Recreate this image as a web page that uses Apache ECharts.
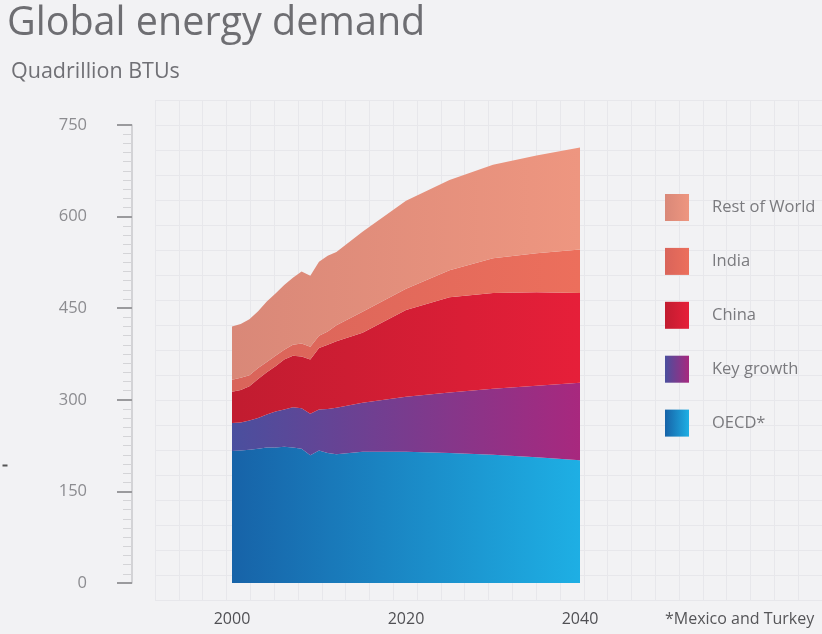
<!DOCTYPE html>
<html>
<head>
<meta charset="utf-8">
<script src="https://cdn.jsdelivr.net/npm/echarts@6/dist/echarts.min.js"></script>
<style>
  html, body { margin: 0; padding: 0; background: #f2f2f4; }
  #chart { width: 822px; height: 634px; }
</style>
</head>
<body>
<div id="chart"></div>
<script>
// Global energy demand, quadrillion BTUs, stacked by region
const years = [2000, 2001, 2002, 2003, 2004, 2005, 2006, 2007, 2008, 2009, 2010, 2011, 2012,
               2015, 2020, 2025, 2030, 2035, 2040];
const oecd        = [216, 217, 218, 220, 222, 222, 223, 222, 220, 209, 217, 213, 211, 215, 215, 213, 210, 206, 201];
const keyGrowth   = [46, 46, 48, 50, 54, 59, 61, 66, 66, 68, 67, 72, 76, 80, 90, 99, 108, 117, 127];
const china       = [51, 53, 56, 64, 69, 74, 82, 84, 85, 89, 101, 105, 109, 115, 142, 156, 157, 153, 147];
const india       = [20, 20, 18, 18, 17, 17, 16, 18, 21, 21, 20, 22, 26, 34, 35, 44, 57, 64, 71];
const restOfWorld = [87, 88, 92, 93, 99, 102, 106, 110, 118, 116, 121, 124, 120, 131, 144, 148, 153, 160, 167];

const yTicks = [0, 150, 300, 450, 600, 750];
const xTicks = [2000, 2020, 2040];
const seriesNames = ['OECD*', 'Key growth', 'China', 'India', 'Rest of World'];
const footnote = '*Mexico and Turkey';

const FONT = '"Open Sans", "Noto Sans", sans-serif';

function grad(a, b) {
  return new echarts.graphic.LinearGradient(0, 0, 1, 0, [
    { offset: 0, color: a }, { offset: 1, color: b }
  ]);
}
const palette = {
  'OECD*':         ['#1763a8', '#1eafe4'],
  'Key growth':    ['#4a4f9e', '#a8287e'],
  'China':         ['#c11c30', '#e61f39'],
  'India':         ['#d9645a', '#ec6f5c'],
  'Rest of World': ['#d98878', '#ee9680']
};
const values = {
  'OECD*': oecd, 'Key growth': keyGrowth, 'China': china,
  'India': india, 'Rest of World': restOfWorld
};

const chart = echarts.init(document.getElementById('chart'), null, { renderer: 'canvas' });

// Each point is stored as [value, year] so the stack accumulates the value column;
// encode maps the year to x and the value to y.
const areaSeries = seriesNames.map(name => ({
  name,
  type: 'line',
  stack: 'total',
  xAxisIndex: 0,
  yAxisIndex: 0,
  encode: { x: 1, y: 0 },
  showSymbol: false,
  symbol: 'none',
  silent: true,
  z: 3,
  lineStyle: { width: 0 },
  itemStyle: { color: grad(palette[name][0], palette[name][1]) },
  areaStyle: { opacity: 1, color: grad(palette[name][0], palette[name][1]) },
  data: years.map((yr, i) => [values[name][i], yr])
}));

const option = {
  backgroundColor: '#f2f2f4',
  animation: false,
  title: [
    { text: 'Global energy demand', left: 7, top: 4, padding: 0,
      textStyle: { fontFamily: FONT, fontSize: 39.5, fontWeight: 'normal', color: '#6e6e72' } },
    { text: 'Quadrillion BTUs', left: 11, top: 61, padding: 0,
      textStyle: { fontFamily: FONT, fontSize: 21.5, fontWeight: 'normal', color: '#707075' } },
    { text: footnote, left: 665, top: 611, padding: 0,
      textStyle: { fontFamily: FONT, fontSize: 16, fontWeight: 'normal', color: '#555558' } }
  ],
  legend: {
    orient: 'vertical',
    left: 665,
    top: 194,
    padding: 0,
    itemWidth: 24,
    itemHeight: 27,
    itemGap: 26.9,
    icon: 'rect',
    selectedMode: false,
    textStyle: { fontFamily: FONT, fontSize: 16.5, color: '#7a7a7e', padding: [0, 0, 0, 18] },
    data: seriesNames.slice().reverse().map(name => ({
      name,
      icon: 'rect',
      itemStyle: { color: grad(palette[name][0], palette[name][1]) }
    }))
  },
  grid: [
    { left: 232, right: 242, top: 125, bottom: 51 },
    // faint background lattice
    { left: 155, right: 0, top: 100, bottom: 34, z: 0 }
  ],
  xAxis: [
    {
      type: 'value', gridIndex: 0, min: xTicks[0], max: xTicks[xTicks.length - 1], interval: 20,
      axisLine: { show: false }, axisTick: { show: false }, splitLine: { show: false },
      axisLabel: { margin: 28, fontFamily: FONT, fontSize: 16, color: '#505054',
                   formatter: v => String(v) }
    },
    {
      type: 'value', gridIndex: 1, min: 0, max: 28, interval: 1, silent: true,
      axisLine: { show: false }, axisTick: { show: false }, axisLabel: { show: false },
      splitLine: { show: true, lineStyle: { color: '#e7e7eb', width: 1 } }
    }
  ],
  yAxis: [
    {
      type: 'value', gridIndex: 0, min: 0, max: yTicks[yTicks.length - 1], interval: 150,
      offset: 100,
      axisLine: { show: true, lineStyle: { color: '#c9c9cc', width: 1.5 } },
      axisTick: { show: true, length: 15, lineStyle: { color: '#9a9a9d', width: 2 } },
      minorTick: { show: true, splitNumber: 10, length: 9, lineStyle: { color: '#d4d4d7', width: 1 } },
      splitLine: { show: false },
      axisLabel: { margin: 45, fontFamily: FONT, fontSize: 16.5, color: '#8c8c90' }
    },
    {
      type: 'value', gridIndex: 1, min: 0, max: 20, interval: 1, silent: true,
      axisLine: { show: false }, axisTick: { show: false }, axisLabel: { show: false },
      splitLine: { show: true, lineStyle: { color: '#e7e7eb', width: 1 } }
    }
  ],
  graphic: [
    { type: 'line', left: 0, top: 463, silent: true,
      shape: { x1: 0, y1: 0, x2: 5, y2: 0 }, style: { stroke: '#555', lineWidth: 2 } }
  ],
  series: areaSeries
};

chart.setOption(option);
</script>
</body>
</html>
